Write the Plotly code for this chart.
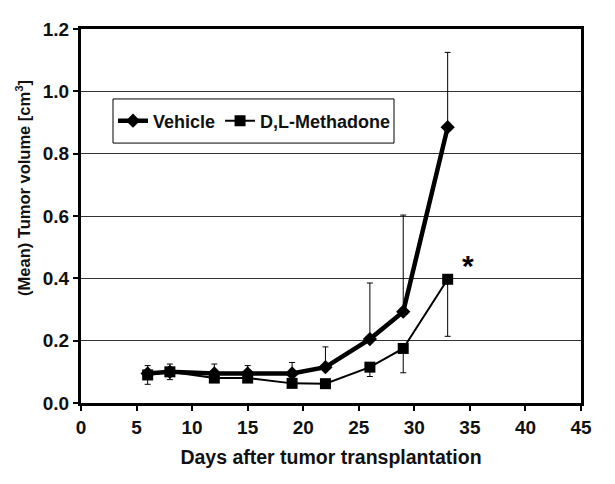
import plotly.graph_objects as go

days = [6, 8, 12, 15, 19, 22, 26, 29, 33]
vehicle = [0.095, 0.10, 0.095, 0.095, 0.095, 0.115, 0.205, 0.293, 0.885]
vehicle_err = [0.025, 0.025, 0.03, 0.025, 0.035, 0.065, 0.18, 0.31, 0.24]
methadone = [0.09, 0.10, 0.08, 0.08, 0.063, 0.062, 0.115, 0.175, 0.397]
methadone_err = [0.03, 0.025, 0.01, 0.01, 0.005, 0.005, 0.03, 0.078, 0.183]

x_ticks = [0, 5, 10, 15, 20, 25, 30, 35, 40, 45]
y_ticks = [0.0, 0.2, 0.4, 0.6, 0.8, 1.0, 1.2]
y_labels = ['0.0', '0.2', '0.4', '0.6', '0.8', '1.0', '1.2']

font_family = 'Liberation Sans, Arial, sans-serif'

fig = go.Figure()

fig.add_trace(go.Scatter(
    x=days, y=methadone, name='D,L-Methadone',
    mode='lines+markers',
    line=dict(color='black', width=2),
    marker=dict(symbol='square', size=11, color='black'),
    error_y=dict(type='data', symmetric=False, array=[0] * len(days),
                 arrayminus=methadone_err, color='black', thickness=1, width=3),
))

fig.add_trace(go.Scatter(
    x=days, y=vehicle, name='Vehicle',
    mode='lines+markers',
    line=dict(color='black', width=4.5),
    marker=dict(symbol='diamond', size=11, color='black'),
    error_y=dict(type='data', symmetric=False, array=vehicle_err,
                 arrayminus=[0] * len(days), color='black', thickness=1, width=3),
))

fig.add_annotation(x=34.8, y=0.44, text='*', showarrow=False,
                   font=dict(size=30, color='black', family=font_family))

# y title as annotation: it sits a bit above the plot centre in the original
fig.add_annotation(xref='paper', yref='paper', x=-0.116, y=0.575,
                   text='(Mean) Tumor volume [cm<sup>3</sup>]', textangle=-90,
                   showarrow=False, xanchor='center', yanchor='middle',
                   font=dict(size=16.5, color='#111111', family=font_family,
                             weight='bold'))

# legend frame (taller than plotly's own legend border)
fig.add_shape(type='rect', xref='paper', yref='paper',
              x0=0.064, x1=0.626, y0=0.695, y1=0.813,
              line=dict(color='black', width=1), fillcolor='white',
              layer='below')

# the page body adds an 8px offset, so the figure is 8px smaller
fig.update_layout(
    width=607, height=476,
    paper_bgcolor='white', plot_bgcolor='white',
    margin=dict(l=73, r=34, t=21, b=81),
    font=dict(family=font_family, size=19, color='#111111', weight='bold'),
    showlegend=True,
    legend=dict(
        x=0.064, y=0.754, xanchor='left', yanchor='middle',
        orientation='h', traceorder='reversed',
        borderwidth=0, bgcolor='rgba(0,0,0,0)',
        font=dict(size=18, family=font_family, weight='bold'),
        itemwidth=30, tracegroupgap=0,
    ),
    xaxis=dict(
        range=[0, 45], tickvals=x_ticks, ticks='outside', ticklen=5,
        tickcolor='black', tickwidth=2, automargin=False,
        showline=True, linecolor='black', linewidth=3, mirror=True,
        showgrid=False, zeroline=False,
        title=dict(text='Days after tumor transplantation', standoff=14,
                   font=dict(size=19.5)),
        tickfont=dict(size=19),
    ),
    yaxis=dict(
        range=[0, 1.2], tickvals=y_ticks, ticktext=y_labels,
        ticks='outside', ticklen=5, tickcolor='black', tickwidth=2,
        automargin=False,
        showline=True, linecolor='black', linewidth=3, mirror=True,
        showgrid=True, gridcolor='#333333', gridwidth=1, zeroline=False,
        tickfont=dict(size=19),
    ),
)

fig.write_html('out.html')
